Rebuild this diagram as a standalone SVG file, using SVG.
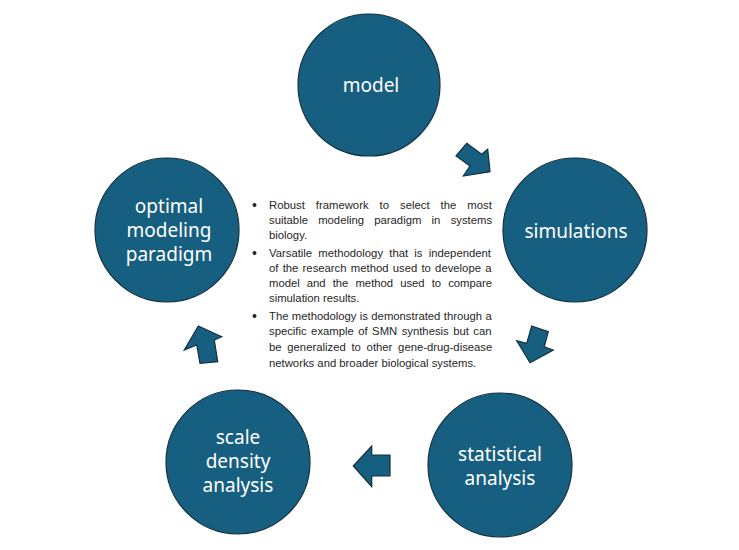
<svg xmlns="http://www.w3.org/2000/svg" width="739" height="550" viewBox="0 0 739 550">
<style>
.node{fill:#175f80;stroke:#12303f;stroke-width:1.2}
.lbl{fill:#ffffff;font-family:"Noto Sans","Open Sans","DejaVu Sans",sans-serif;font-size:19px;text-anchor:middle}
.arr{fill:#175f80;stroke:#12303f;stroke-width:1.2;stroke-linejoin:miter}
.txt{fill:#262626;font-family:"Liberation Sans",Arial,sans-serif;font-size:11.3px}
.bul{fill:#262626}
</style>
<rect width="739" height="550" fill="#ffffff"/>
<g id="node-model">
<circle class="node" cx="369" cy="85" r="71"/>
<text class="lbl" x="371" y="92">model</text>
</g>
<g id="node-simulations">
<circle class="node" cx="575" cy="230" r="72"/>
<text class="lbl" x="576" y="238">simulations</text>
</g>
<g id="node-statistical">
<circle class="node" cx="500" cy="465" r="72"/>
<text class="lbl" x="500" y="461">statistical</text>
<text class="lbl" x="500" y="485">analysis</text>
</g>
<g id="node-scale">
<circle class="node" cx="238" cy="462" r="72"/>
<text class="lbl" x="238" y="444">scale</text>
<text class="lbl" x="238" y="468">density</text>
<text class="lbl" x="238" y="492">analysis</text>
</g>
<g id="node-optimal">
<circle class="node" cx="167" cy="230" r="72"/>
<text class="lbl" x="169" y="213">optimal</text>
<text class="lbl" x="169" y="237">modeling</text>
<text class="lbl" x="169" y="261">paradigm</text>
</g>
<g id="connectors">
<polygon class="arr" points="466.7,143.3 481.7,154.3 487.7,149.3 490,171.7 463.3,176 470,166 456,156"/>
<polygon class="arr" points="531.7,326 548.3,331.7 544.3,346.7 553.3,350 530,362.7 516.7,340.7 526.7,343.3"/>
<polygon class="arr" points="353.3,466 371.7,446 371.7,455 390,455 390,476 371.7,476 371.7,486.7"/>
<polygon class="arr" points="198.3,326 221.7,336.7 214.3,340 217.7,361.7 200,363.3 196.7,345 184.3,350"/>
</g>
<g id="bullets">
<circle class="bul" cx="254.5" cy="205" r="2"/>
<circle class="bul" cx="254.5" cy="253" r="2"/>
<circle class="bul" cx="254.5" cy="316" r="2"/>
<text class="txt" x="269" y="209" word-spacing="7.9">Robust framework to select the most</text>
<text class="txt" x="269" y="224" word-spacing="7.1">suitable modeling paradigm in systems</text>
<text class="txt" x="269" y="239">biology.</text>
<text class="txt" x="269" y="257" word-spacing="3.1">Varsatile methodology that is independent</text>
<text class="txt" x="269" y="272" word-spacing="1.1">of the research method used to develope a</text>
<text class="txt" x="269" y="287" word-spacing="3.9">model and the method used to compare</text>
<text class="txt" x="269" y="302">simulation results.</text>
<text class="txt" x="269" y="320" word-spacing="0.2">The methodology is demonstrated through a</text>
<text class="txt" x="269" y="335" word-spacing="1.3">specific example of SMN synthesis but can</text>
<text class="txt" x="269" y="351" word-spacing="2.6">be generalized to other gene-drug-disease</text>
<text class="txt" x="269" y="367">networks and broader biological systems.</text>
</g>
</svg>
